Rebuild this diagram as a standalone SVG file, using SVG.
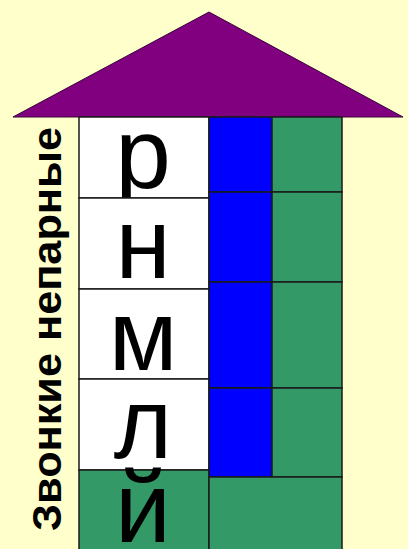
<svg xmlns="http://www.w3.org/2000/svg" width="408" height="549" viewBox="0 0 408 549">
  <style>
    .cell { stroke: #1a1a1a; stroke-width: 1.5; }
    .white { fill: #ffffff; }
    .blue { fill: #0000ff; }
    .green { fill: #339966; }
    .big { font-family: "Liberation Sans", Arial, sans-serif; font-size: 100px; fill: #000; text-anchor: middle; }
    .label { font-family: "Liberation Sans", Arial, sans-serif; font-weight: bold; font-size: 40px; fill: #000; }
  </style>
  <rect x="0" y="0" width="408" height="549" fill="#ffffcc"/>
  <g id="roof">
    <polygon points="13,117 209,12 403,117" fill="#800080" stroke="#3a003a" stroke-width="1"/>
  </g>
  <g id="label">
    <text class="label" transform="translate(61,531) rotate(-90)" textLength="404" lengthAdjust="spacingAndGlyphs">Звонкие непарные</text>
  </g>
  <g id="col-letters">
    <g id="cell-r"><rect class="cell white" x="79" y="117" width="130" height="81"/><text class="big" x="143" y="188">р</text></g>
    <g id="cell-n"><rect class="cell white" x="79" y="198" width="130" height="91"/><text class="big" x="143" y="278">н</text></g>
    <g id="cell-m"><rect class="cell white" x="79" y="289" width="130" height="90"/><text class="big" x="143" y="370">м</text></g>
    <g id="cell-l"><rect class="cell white" x="79" y="379" width="130" height="91"/><text class="big" x="143" y="458">л</text></g>
    <g id="cell-j"><rect class="cell green" x="79" y="470" width="130" height="82"/><text class="big" x="143" y="542">й</text></g>
  </g>
  <g id="col-blue">
    <rect class="cell blue" x="209" y="117" width="63" height="75"/>
    <rect class="cell blue" x="209" y="192" width="63" height="90"/>
    <rect class="cell blue" x="209" y="282" width="63" height="106"/>
    <rect class="cell blue" x="209" y="388" width="63" height="89"/>
  </g>
  <g id="col-green">
    <rect class="cell green" x="272" y="117" width="70" height="75"/>
    <rect class="cell green" x="272" y="192" width="70" height="90"/>
    <rect class="cell green" x="272" y="282" width="70" height="106"/>
    <rect class="cell green" x="272" y="388" width="70" height="89"/>
  </g>
  <g id="cell-bottom">
    <rect class="cell green" x="209" y="477" width="133" height="75"/>
  </g>
</svg>
